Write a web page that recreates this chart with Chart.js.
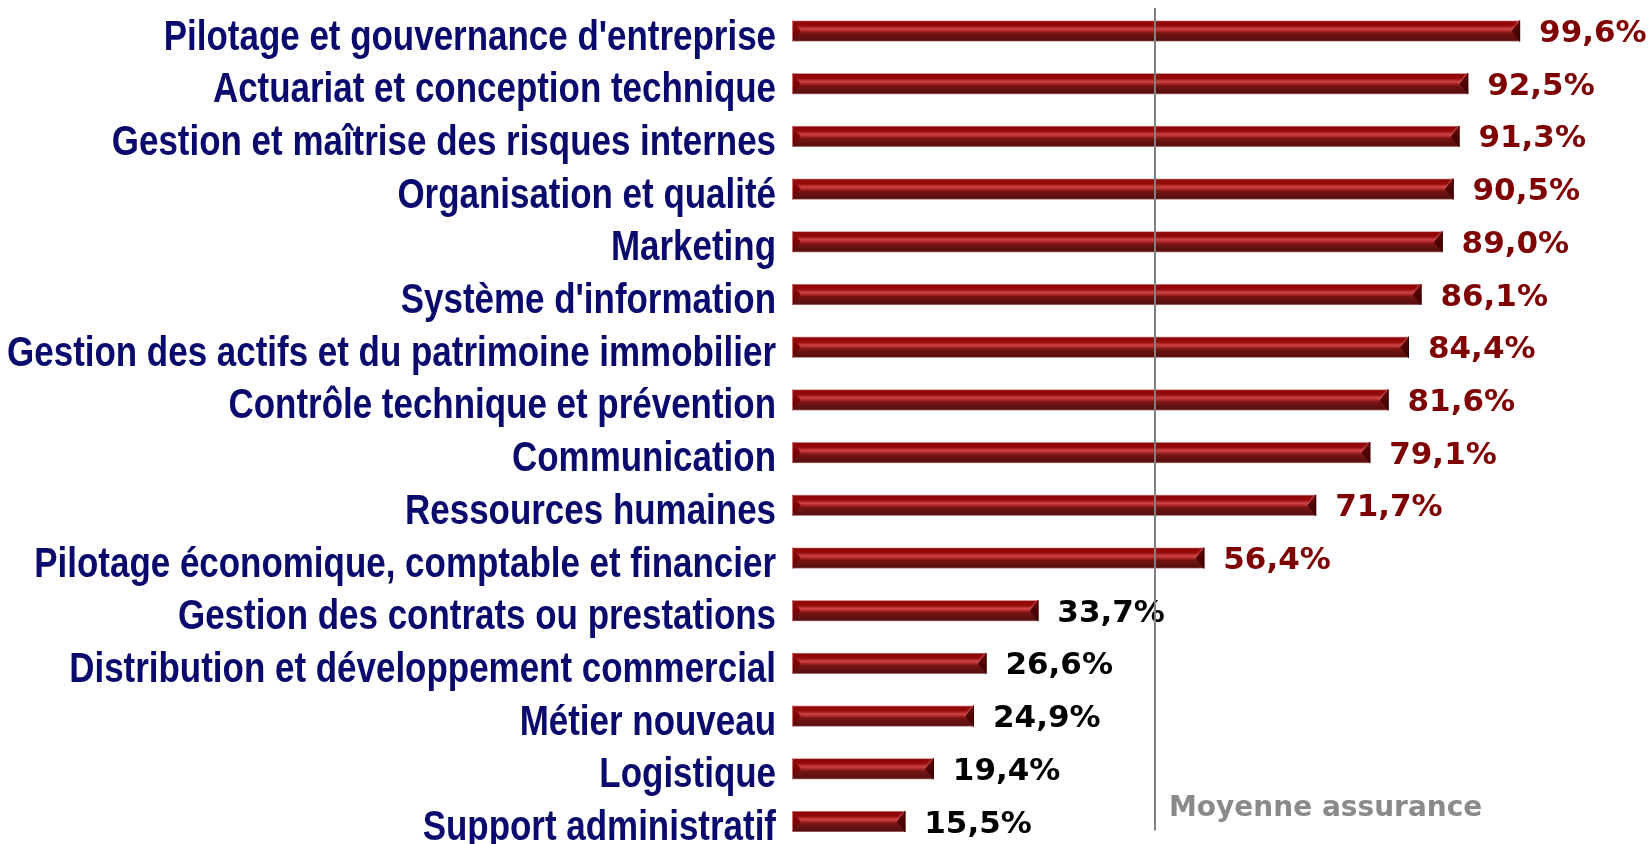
<!DOCTYPE html>
<html>
<head>
<meta charset="utf-8">
<script src="https://cdn.jsdelivr.net/npm/chart.js@4.4.1/dist/chart.umd.min.js"></script>
<style>
  html, body { margin: 0; padding: 0; background: #ffffff; }
  #wrap { width: 1651px; height: 844px; position: relative; }
</style>
</head>
<body>
<div id="wrap"><canvas id="c"></canvas></div>
<script>
// ---- Data ----
const categories = [
  "Pilotage et gouvernance d'entreprise",
  "Actuariat et conception technique",
  "Gestion et maîtrise des risques internes",
  "Organisation et qualité",
  "Marketing",
  "Système d'information",
  "Gestion des actifs et du patrimoine immobilier",
  "Contrôle technique et prévention",
  "Communication",
  "Ressources humaines",
  "Pilotage économique, comptable et financier",
  "Gestion des contrats ou prestations",
  "Distribution et développement commercial",
  "Métier nouveau",
  "Logistique",
  "Support administratif"
];
const values = [99.6, 92.5, 91.3, 90.5, 89.0, 86.1, 84.4, 81.6, 79.1, 71.7, 56.4, 33.7, 26.6, 24.9, 19.4, 15.5];
const averageValue = 49.7;
const averageLabel = "Moyenne assurance";
const xRange = [0, 100];

function fmt(v) { return v.toFixed(1).replace('.', ',') + '%'; }

const bevelBars = {
  id: 'bevelBars',
  afterDatasetsDraw(chart) {
    const ctx = chart.ctx;
    const meta = chart.getDatasetMeta(0);
    meta.data.forEach((bar, i) => {
      const p = bar.getProps(['x', 'y', 'base', 'height'], true);
      const x0 = Math.min(p.base, p.x), x1 = Math.max(p.base, p.x);
      const t = p.y - p.height / 2, b = p.y + p.height / 2, h = b - t;
      const mid = (t + b) / 2;
      const d = h * 0.42;
      ctx.save();
      const g = ctx.createLinearGradient(0, t, 0, b);
      g.addColorStop(0.00, '#e2a4a4');
      g.addColorStop(0.06, '#8e0505');
      g.addColorStop(0.25, '#960a0a');
      g.addColorStop(0.40, '#cc4444');
      g.addColorStop(0.50, '#b02828');
      g.addColorStop(0.60, '#781414');
      g.addColorStop(0.85, '#5e1010');
      g.addColorStop(0.94, '#581010');
      g.addColorStop(1.00, '#b88080');
      ctx.fillStyle = g;
      ctx.fillRect(x0, t, x1 - x0, h);
      // left bevel
      ctx.beginPath();
      ctx.moveTo(x0, t); ctx.lineTo(x0 + d, mid); ctx.lineTo(x0, b); ctx.closePath();
      const gl = ctx.createLinearGradient(0, t, 0, b);
      gl.addColorStop(0, '#a01010'); gl.addColorStop(0.5, '#7c0404'); gl.addColorStop(1, '#5a0808');
      ctx.fillStyle = gl; ctx.fill();
      ctx.fillStyle = '#c87070';
      ctx.fillRect(x0, t, 1, h);
      // right bevel
      ctx.beginPath();
      ctx.moveTo(x1, t); ctx.lineTo(x1 - d, mid); ctx.lineTo(x1, b); ctx.closePath();
      const gr = ctx.createLinearGradient(0, t, 0, b);
      gr.addColorStop(0, '#6a0c0c'); gr.addColorStop(0.5, '#4e0404'); gr.addColorStop(1, '#3c0202');
      ctx.fillStyle = gr; ctx.fill();
      ctx.beginPath();
      ctx.moveTo(x1, t); ctx.lineTo(x1 - d, mid); ctx.lineTo(x1 - d - 2, mid); ctx.lineTo(x1 - 2, t); ctx.closePath();
      ctx.fillStyle = 'rgba(200,90,90,0.55)'; ctx.fill();
      ctx.fillStyle = '#3a0000';
      ctx.fillRect(x1 - 1, t, 1, h);
      ctx.restore();

      // value label
      const v = values[i];
      ctx.save();
      ctx.font = 'bold 31px "DejaVu Sans", Verdana, sans-serif';
      ctx.fillStyle = v > averageValue ? '#7f0000' : '#000000';
      ctx.textAlign = 'left';
      ctx.textBaseline = 'alphabetic';
      ctx.fillText(fmt(v), x1 + 19, p.y + 11);
      ctx.restore();
    });
  },
  afterDraw(chart) {
    const ctx = chart.ctx;
    const xs = chart.scales.x;
    const ys = chart.scales.y;
    const area = chart.chartArea;
    // category labels (Arial Bold, horizontally condensed as in the reference)
    ctx.save();
    ctx.font = 'bold 42px "Liberation Sans", Arial, sans-serif';
    ctx.fillStyle = '#0a0a6e';
    ctx.textAlign = 'right';
    ctx.textBaseline = 'alphabetic';
    categories.forEach((lab, i) => {
      const y = ys.getPixelForTick(i);
      ctx.save();
      ctx.translate(area.left - 16, y + 18.5);
      ctx.scale(0.832, 1);
      ctx.fillText(lab, 0, 0);
      ctx.restore();
    });
    ctx.restore();

    // average line + label
    const x = Math.round(xs.getPixelForValue(averageValue));
    ctx.save();
    ctx.strokeStyle = '#808080';
    ctx.lineWidth = 2;
    ctx.beginPath();
    ctx.moveTo(x, area.top - 23);
    ctx.lineTo(x, area.bottom + 9);
    ctx.stroke();
    ctx.font = 'bold 28px "DejaVu Sans", Verdana, sans-serif';
    ctx.fillStyle = '#8a8a8a';
    ctx.textAlign = 'left';
    ctx.textBaseline = 'middle';
    ctx.fillText(averageLabel, x + 14, area.bottom - 13);
    ctx.restore();
  }
};

new Chart(document.getElementById('c'), {
  type: 'bar',
  data: {
    labels: categories,
    datasets: [{
      data: values,
      backgroundColor: 'rgba(0,0,0,0)',
      borderWidth: 0,
      barThickness: 21,
      clip: false
    }]
  },
  options: {
    indexAxis: 'y',
    responsive: true,
    maintainAspectRatio: false,
    animation: false,
    layout: { padding: { top: 31, bottom: 22.5, right: 128, left: 0 } },
    plugins: { legend: { display: false }, tooltip: { enabled: false } },
    scales: {
      x: { display: false, min: xRange[0], max: xRange[1] },
      y: {
        offset: false,
        grid: { display: false },
        border: { display: false },
        ticks: { display: false, autoSkip: false },
        afterFit(scale) { scale.width = 792; }
      }
    }
  },
  plugins: [bevelBars]
});
</script>
</body>
</html>
